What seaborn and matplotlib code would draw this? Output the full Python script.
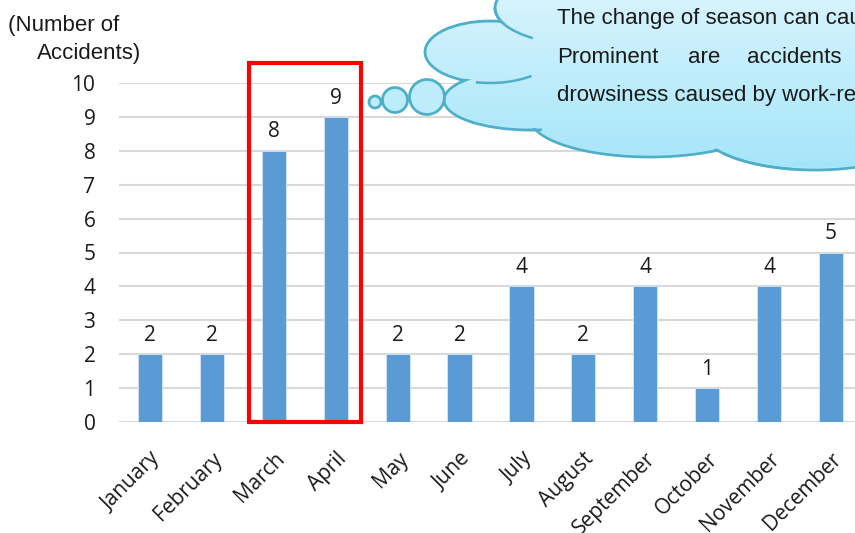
import numpy as np
import pandas as pd
import matplotlib
matplotlib.use("Agg")
import matplotlib.pyplot as plt
from matplotlib.patches import Ellipse, Circle, Rectangle, Arc
import seaborn as sns

months = ["January", "February", "March", "April", "May", "June", "July",
          "August", "September", "October", "November", "December"]
accidents = [2, 2, 8, 9, 2, 2, 4, 2, 4, 1, 4, 5]
y_ticks = [0, 1, 2, 3, 4, 5, 6, 7, 8, 9, 10]
y_label_lines = ["(Number of", "Accidents)"]
callout_lines = ["The change of season can cause",
                 ["Prominent", "are", "accidents"],
                 "drowsiness caused by work-related"]

sns.set_theme(style="white")
plt.rcParams["font.family"] = ["Open Sans", "DejaVu Sans"]

W, H = 855, 533
fig = plt.figure(figsize=(W / 100, H / 100), dpi=100)
ax = fig.add_axes([119 / W, 111 / H, 743 / W, 339 / H])

df = pd.DataFrame({"month": months, "n": accidents})
sns.barplot(data=df, x="month", y="n", color="#5B9BD5", width=0.39,
            saturation=1, ax=ax, zorder=3, edgecolor="#D6E6F5", linewidth=0.6)
ax.set_ylim(0, 10)
ax.set_yticks(y_ticks)
ax.set_xlim(-0.5, len(months) - 0.5)
ax.set_xlabel("")
ax.set_ylabel("")
for s in ax.spines.values():
    s.set_visible(False)
ax.yaxis.grid(True, color="#D9D9D9", linewidth=1.5, zorder=0)
ax.set_axisbelow(True)
ax.tick_params(axis="y", length=0, pad=17, labelsize=15, labelcolor="#1a1a1a")
ax.tick_params(axis="x", length=0, pad=19, labelsize=15, labelcolor="#1a1a1a")
plt.setp(ax.get_xticklabels(), rotation=45, ha="right", rotation_mode="anchor")
ax.bar_label(ax.containers[0], padding=6, fontsize=15, color="#1a1a1a")

# red highlight box around March/April
ax.add_patch(Rectangle((1.6, 0), 1.81, 10.6, fill=False, edgecolor="#FF0000",
                       linewidth=3, clip_on=False, zorder=5))

# overlay in pixel coordinates
ov = fig.add_axes([0, 0, 1, 1], zorder=10)
ov.set_xlim(0, W)
ov.set_ylim(H, 0)
ov.axis("off")
ov.patch.set_alpha(0)

edge = "#4FAFC9"
lobes = [
    (490, 52, 130, 62),   # 0 left
    (585, 8, 180, 74),    # 1 top-left
    (530, 100, 172, 60),  # 2 lower-left
    (650, 118, 240, 78),  # 3 bottom
    (815, 128, 230, 84),  # 4 bottom-right
    (700, 60, 390, 122),  # 5 body
    (790, 10, 260, 84),   # 6 top-right
]
grad = np.linspace(0, 1, 256).reshape(-1, 1)
cmap = matplotlib.colors.LinearSegmentedColormap.from_list("c", ["#D8F4FD", "#A3E5F9"])
for cx, cy, w, h in lobes:
    ov.add_patch(Ellipse((cx, cy), w, h, facecolor="#C0EEFC", edgecolor=edge,
                         linewidth=2, zorder=1))
for cx, cy, w, h in lobes:
    e = Ellipse((cx, cy), w - 4, h - 4, facecolor="none", edgecolor="none")
    ov.add_patch(e)
    im = ov.imshow(grad, extent=(420, 860, 175, -10), cmap=cmap, aspect="auto",
                   zorder=2)
    im.set_clip_path(e)
ov.set_xlim(0, W)
ov.set_ylim(H, 0)

# inner cloud creases (partial outlines of lobes)
for idx, t1, t2 in [(1, 150, 180), (0, 30, 115), (2, 68, 95), (4, 118, 165)]:
    cx, cy, w, h = lobes[idx]
    ov.add_patch(Arc((cx, cy), w, h, theta1=t1, theta2=t2, color=edge,
                     linewidth=1.8, zorder=3))

for cx, cy, r in [(375, 102, 6), (395, 100, 12.5), (427, 97, 17.5)]:
    ov.add_patch(Circle((cx, cy), r, facecolor="#BDEDFB", edgecolor=edge,
                        linewidth=2, zorder=3))

tfont = dict(family=["Liberation Sans", "DejaVu Sans"], fontsize=16,
             color="#1a1a1a", zorder=6)
ov.text(557, 24, callout_lines[0], va="baseline", ha="left", **tfont)
for word, x in zip(callout_lines[1], [557, 688, 747]):
    ov.text(x, 63, word, va="baseline", ha="left", **tfont)
ov.text(557, 101, callout_lines[2], va="baseline", ha="left", **tfont)

# y-axis title
ov.text(8, 31, y_label_lines[0], va="baseline", ha="left", **tfont)
ov.text(141, 59, y_label_lines[1], va="baseline", ha="right", **tfont)

fig.savefig("out.png", dpi=100)
